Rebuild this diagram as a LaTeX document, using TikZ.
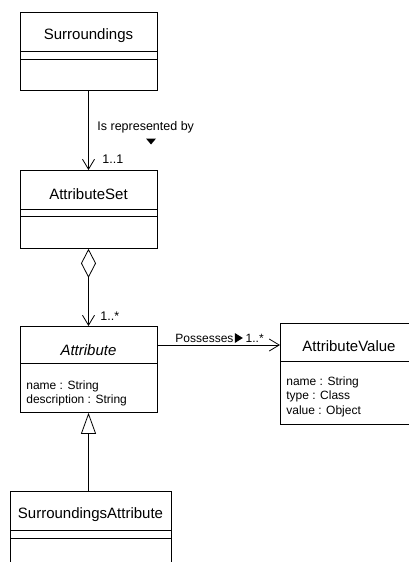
\documentclass[tikz,border=0pt]{standalone}
\usepackage{fontspec}
\setmainfont{Liberation Sans}
\usetikzlibrary{arrows.meta}
\begin{document}
\begin{tikzpicture}[x=1pt,y=-1pt,
  line width=0.8pt,
  classbox/.style={draw, rectangle, anchor=north west, inner sep=0pt},
  classname/.style={inner sep=0pt, font=\fontsize{15}{18}\selectfont},
  attrtext/.style={inner sep=0pt, anchor=west, align=left, font=\fontsize{12}{14.5}\selectfont},
  lbl/.style={inner sep=0pt, anchor=west, font=\fontsize{12.5}{14}\selectfont},
  smalllbl/.style={lbl, font=\fontsize{12}{14}\selectfont},
  navarrow/.style={-{Straight Barb[length=10pt,width=12pt]}},
  aggregation/.style={{Diamond[open,length=29pt,width=15pt]}-{Straight Barb[length=10pt,width=12pt]}},
  generalization/.style={-{Triangle[open,length=21pt,width=15pt]}}
]
\clip (0,0) rectangle (409,562);
\fill[white] (0,0) rectangle (409,562);

% Surroundings
\node[classbox, minimum width=137pt, minimum height=78pt] (surr) at (20,12) {};
\node[classname] (surrname) at (88.5,36) {Surroundings};
\draw (20,51.7) -- (157,51.7) (20,59.3) -- (157,59.3);

% AttributeSet
\node[classbox, minimum width=137pt, minimum height=78pt] (aset) at (20,170) {};
\node[classname] (asetname) at (88.5,194) {AttributeSet};
\draw (20,209) -- (157,209) (20,216) -- (157,216);

% Attribute
\node[classbox, minimum width=137pt, minimum height=86pt] (attr) at (20,326) {};
\node[classname, font=\fontsize{15}{18}\selectfont\itshape] (attrname) at (88.5,350) {Attribute};
\draw (20,363) -- (157,363);
\node[attrtext] (attrfields) at (26,393.5) {name : String\\description : String};

% AttributeValue
\node[classbox, minimum width=138pt, minimum height=101pt] (aval) at (280,323) {};
\node[classname] (avalname) at (349,346) {AttributeValue};
\draw (280,361.7) -- (418,361.7);
\node[attrtext] (avalfields) at (286,396.5) {name : String\\type : Class\\value : Object};

% SurroundingsAttribute
\node[classbox, minimum width=161pt, minimum height=90pt] (sattr) at (10,491) {};
\node[classname] (sattrname) at (90.5,515) {SurroundingsAttribute};
\draw (10,530) -- (171,530) (10,538) -- (171,538);

% Surroundings -> AttributeSet
\draw[navarrow] (surr.south -| 88.5,0) -- (aset.north -| 88.5,0);
\node[lbl] (replbl) at (97,127) {Is represented by};
\fill (146,138.5) -- (156,138.5) -- (151,144.5) -- cycle;
\node[lbl] (repmult) at (102,159.5) {1..1};

% AttributeSet <>-> Attribute
\draw[aggregation] (aset.south -| 88.5,0) -- (attr.north -| 88.5,0);
\node[lbl] (aggmult) at (100,316) {1..*};

% Attribute -> AttributeValue
\draw[navarrow] (attr.east |- 0,345) -- (aval.west |- 0,345);
\node[smalllbl] (poslbl) at (175,338) {Possesses};
\fill ([xshift=1pt]poslbl.east) ++(0,-5) -- ++(0,10) -- ++(8,-5) -- cycle;
\node[smalllbl] (posmult) at ([xshift=11.5pt]poslbl.east) {1..*};

% SurroundingsAttribute --|> Attribute
\draw[generalization] (sattr.north -| 88.5,0) -- (attr.south -| 88.5,0);
\end{tikzpicture}
\end{document}
